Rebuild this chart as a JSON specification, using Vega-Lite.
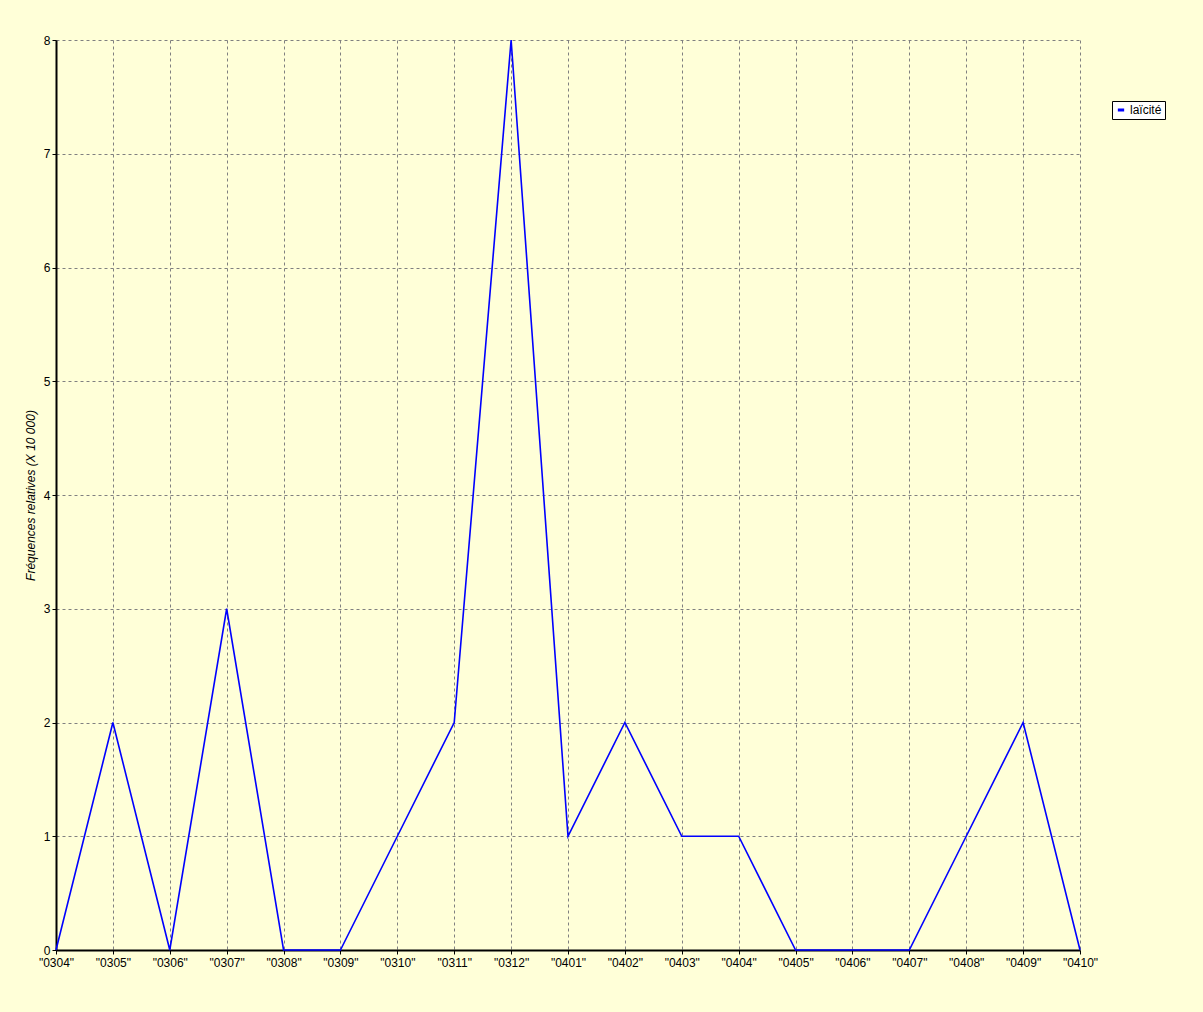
{
  "$schema": "https://vega.github.io/schema/vega-lite/v6.json",
  "width": 1024,
  "height": 910,
  "autosize": {"type": "none"},
  "padding": {"left": 56, "top": 40, "right": 123, "bottom": 62},
  "background": "#FFFFD8",
  "config": {
    "view": {"stroke": null, "fill": "#FFFFD8"},
    "font": "Liberation Sans"
  },
  "data": {
    "values": [
      {"mois": "\"0304\"", "freq": 0, "serie": "laïcité"},
      {"mois": "\"0305\"", "freq": 2, "serie": "laïcité"},
      {"mois": "\"0306\"", "freq": 0, "serie": "laïcité"},
      {"mois": "\"0307\"", "freq": 3, "serie": "laïcité"},
      {"mois": "\"0308\"", "freq": 0, "serie": "laïcité"},
      {"mois": "\"0309\"", "freq": 0, "serie": "laïcité"},
      {"mois": "\"0310\"", "freq": 1, "serie": "laïcité"},
      {"mois": "\"0311\"", "freq": 2, "serie": "laïcité"},
      {"mois": "\"0312\"", "freq": 8, "serie": "laïcité"},
      {"mois": "\"0401\"", "freq": 1, "serie": "laïcité"},
      {"mois": "\"0402\"", "freq": 2, "serie": "laïcité"},
      {"mois": "\"0403\"", "freq": 1, "serie": "laïcité"},
      {"mois": "\"0404\"", "freq": 1, "serie": "laïcité"},
      {"mois": "\"0405\"", "freq": 0, "serie": "laïcité"},
      {"mois": "\"0406\"", "freq": 0, "serie": "laïcité"},
      {"mois": "\"0407\"", "freq": 0, "serie": "laïcité"},
      {"mois": "\"0408\"", "freq": 1, "serie": "laïcité"},
      {"mois": "\"0409\"", "freq": 2, "serie": "laïcité"},
      {"mois": "\"0410\"", "freq": 0, "serie": "laïcité"}
    ]
  },
  "mark": {"type": "line", "strokeWidth": 1.6, "clip": false},
  "encoding": {
    "x": {
      "field": "mois",
      "type": "ordinal",
      "sort": null,
      "scale": {"type": "point", "padding": 0},
      "axis": {
        "title": null,
        "labelAngle": 0,
        "labelFontSize": 12,
        "labelColor": "#000000",
        "labelPadding": 3,
        "tickSize": 4,
        "tickColor": "#000000",
        "domainColor": "#000000",
        "domainWidth": 2,
        "grid": true,
        "gridColor": "#808080",
        "gridDash": [3, 3],
        "gridWidth": 1,
        "zindex": 0
      }
    },
    "y": {
      "field": "freq",
      "type": "quantitative",
      "scale": {"domain": [0, 8], "nice": false},
      "axis": {
        "title": "Fréquences relatives (X 10 000)",
        "titleFontStyle": "italic",
        "titleFontWeight": "normal",
        "titleFontSize": 12,
        "titleColor": "#000000",
        "titlePadding": 6,
        "values": [0, 1, 2, 3, 4, 5, 6, 7, 8],
        "labelFontSize": 12,
        "labelColor": "#000000",
        "labelPadding": 2,
        "tickSize": 4,
        "tickColor": "#000000",
        "domainColor": "#000000",
        "domainWidth": 2,
        "grid": true,
        "gridColor": "#808080",
        "gridDash": [3, 3],
        "gridWidth": 1,
        "zindex": 0
      }
    },
    "color": {
      "field": "serie",
      "type": "nominal",
      "scale": {"range": ["#0000FF"]},
      "legend": {
        "title": null,
        "orient": "none",
        "legendX": 1056,
        "legendY": 61,
        "fillColor": "#FFFFFF",
        "strokeColor": "#000000",
        "padding": 3,
        "symbolType": "stroke",
        "symbolSize": 40,
        "symbolStrokeWidth": 3,
        "labelFontSize": 12,
        "labelColor": "#000000",
        "labelOffset": 3
      }
    }
  }
}
